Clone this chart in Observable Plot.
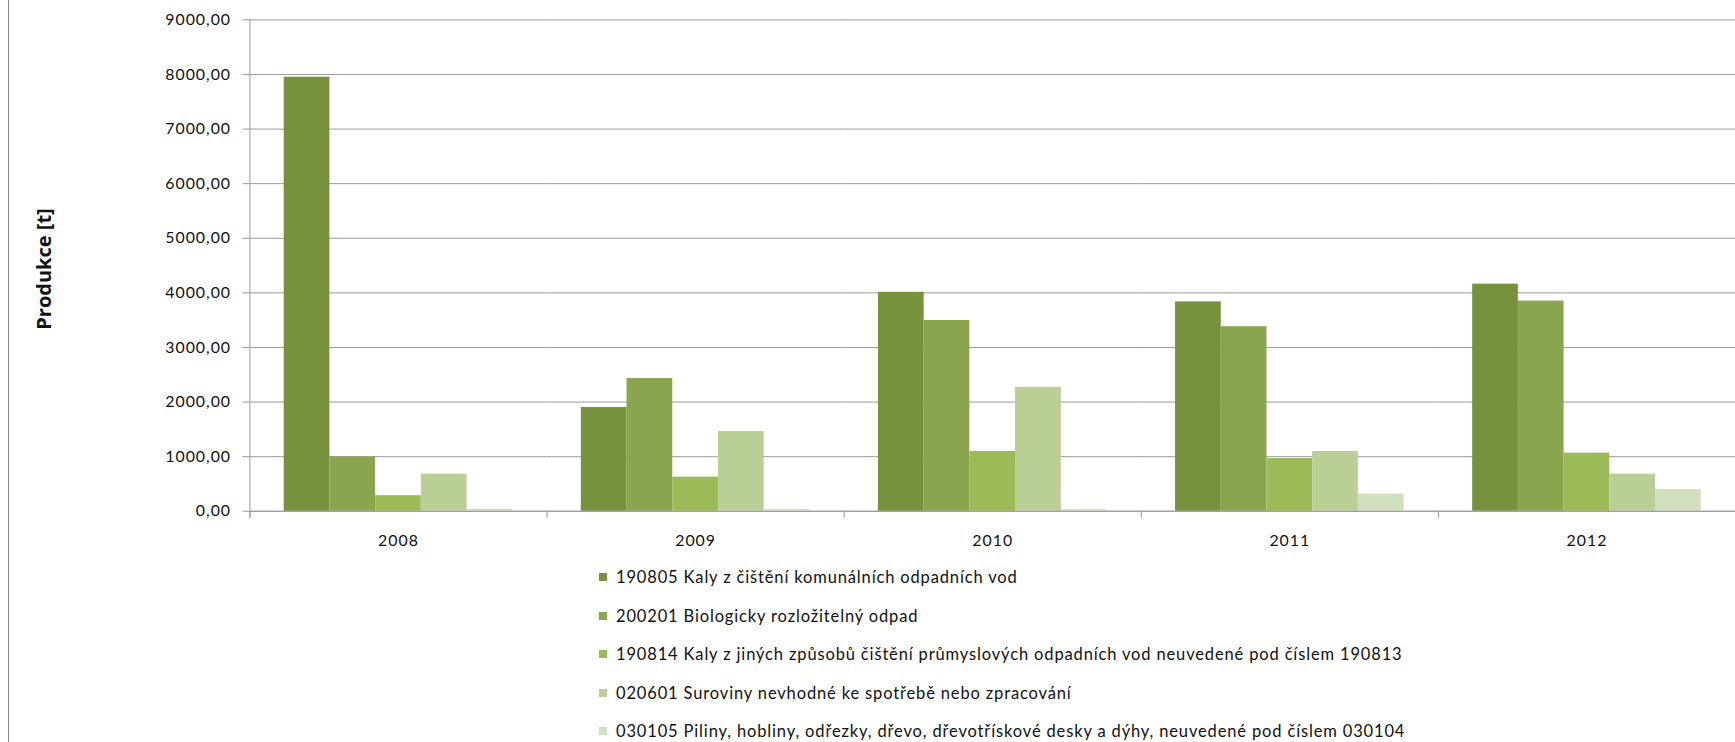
<!DOCTYPE html>
<html>
<head>
<meta charset="utf-8">
<script src="https://cdn.jsdelivr.net/npm/d3@7"></script>
<script src="https://cdn.jsdelivr.net/npm/@observablehq/plot@0.6"></script>
<style>
  html, body { margin: 0; padding: 0; background: #fff; overflow: hidden; width: 1735px; height: 742px; }
  #wrap { position: relative; width: 1735px; height: 742px; overflow: hidden; }
  #border { position: absolute; left: 8px; top: 0; width: 1px; height: 742px; background: #8c8c8c; }
  #ytitle { position: absolute; left: 43px; top: 269px; transform: translate(-50%, -50%) rotate(-90deg);
            font: bold 20px "Open Sans"; white-space: nowrap; color: #111; }
  #chart { position: absolute; left: 0; top: 0; }
  #chart svg text { letter-spacing: 1px; }
  #legend { position: absolute; left: 599px; top: 558px; font-family: Lato; font-size: 16.5px; color: #111; letter-spacing: 0.85px; }
  .row { height: 38.5px; display: flex; align-items: center; white-space: nowrap; }
  .sw { width: 8px; height: 8px; margin-right: 9px; flex: none; }
</style>
</head>
<body>
<div id="wrap">
  <div id="border"></div>
  <div id="chart"></div>
  <div id="ytitle">Produkce [t]</div>
  <div id="legend"></div>
</div>
<script>
// ---- data ----
const years = ["2008", "2009", "2010", "2011", "2012"];
const seriesNames = [
  "190805 Kaly z čištění komunálních odpadních vod",
  "200201 Biologicky rozložitelný odpad",
  "190814 Kaly z jiných způsobů čištění průmyslových odpadních vod neuvedené pod číslem 190813",
  "020601 Suroviny nevhodné ke spotřebě nebo zpracování",
  "030105 Piliny, hobliny, odřezky, dřevo, dřevotřískové desky a dýhy, neuvedené pod číslem 030104"
];
const kaly190805   = [7950, 1900, 4010, 3835, 4160];
const bio200201    = [995, 2430, 3495, 3380, 3850];
const kaly190814   = [285, 625, 1095, 965, 1065];
const surov020601  = [680, 1460, 2270, 1095, 680];
const piliny030105 = [35, 30, 30, 315, 400];
const seriesValues = [kaly190805, bio200201, kaly190814, surov020601, piliny030105];
const colors = ["#76923c", "#89a54e", "#9bbb59", "#bacf96", "#d2dfbe"];
const yTicks = [0, 1000, 2000, 3000, 4000, 5000, 6000, 7000, 8000, 9000];

const data = years.flatMap((year, j) =>
  seriesNames.map((series, i) => ({year, series, value: seriesValues[i][j]})));

// ---- layout ----
const W = 1746, H = 560, ML = 251, MR = 0, MT = 19.5, MB = 46;
const paddingOuter = 0.75;
const facetW = (W - ML - MR) / years.length;
const step = facetW / (seriesNames.length + 2 * paddingOuter);
const edgeOffset = (paddingOuter + 0.5) * step;
const gridColor = "#999999";
const fmt = d => d3.format(".2f")(d).replace(".", ",");

const chart = Plot.plot({
  width: W, height: H,
  marginLeft: ML, marginRight: MR, marginTop: MT, marginBottom: MB,
  style: {fontFamily: "Lato", fontSize: "16px", color: "#111", background: "transparent", overflow: "visible"},
  fx: {domain: years, padding: 0, round: false, label: null},
  x: {domain: seriesNames, paddingInner: 0, paddingOuter, round: false, axis: null},
  y: {domain: [0, 9000], label: null},
  color: {domain: seriesNames, range: colors},
  marks: [
    Plot.gridY({ticks: yTicks, stroke: gridColor, strokeOpacity: 1}),
    Plot.barY(data, {fx: "year", x: "series", y: "value", fill: "series"}),
    Plot.ruleY([0], {stroke: gridColor}),
    // vertical value axis line (in first facet)
    Plot.ruleX(years.slice(0, 1), {fx: d => d, x: () => seriesNames[0], y1: 9000, y2: 0,
      insetBottom: -7, dx: -edgeOffset, stroke: gridColor}),
    // category boundary ticks
    Plot.ruleX(years, {fx: d => d, x: () => seriesNames[0], y1: 0, y2: 0,
      insetBottom: -7, dx: -edgeOffset, stroke: gridColor}),
    Plot.axisY({ticks: yTicks, tickSize: 7, tickPadding: 12, tickFormat: fmt,
      stroke: gridColor, fill: "#111", fontSize: 16, label: null}),
    Plot.axisFx({anchor: "bottom", tickSize: 0, tickPadding: 24, fontSize: 16, fill: "#111", label: null})
  ]
});
document.getElementById("chart").appendChild(chart);

// ---- legend ----
const legend = document.getElementById("legend");
seriesNames.forEach((name, i) => {
  const row = document.createElement("div");
  row.className = "row";
  const sw = document.createElement("span");
  sw.className = "sw";
  sw.style.background = colors[i];
  const tx = document.createElement("span");
  tx.textContent = name;
  row.appendChild(sw);
  row.appendChild(tx);
  legend.appendChild(row);
});
</script>
</body>
</html>
